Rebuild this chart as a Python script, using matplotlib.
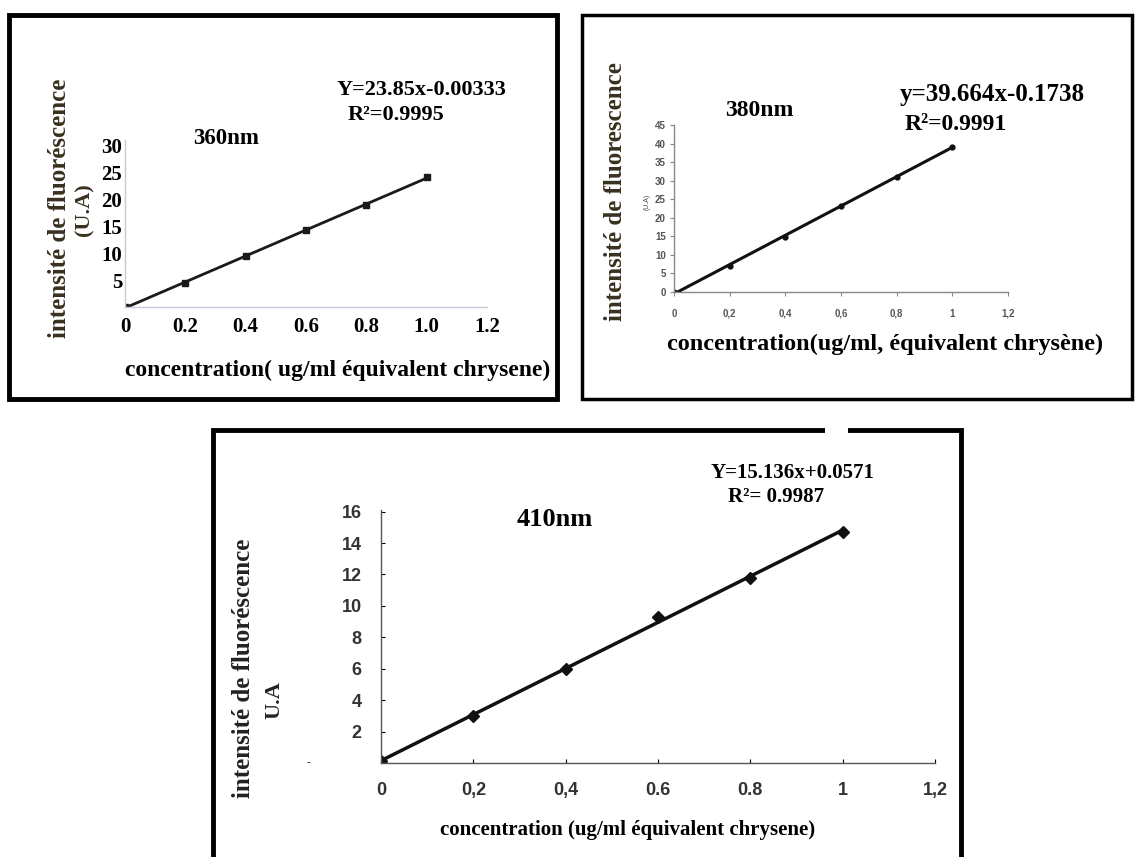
import numpy as np
import matplotlib.pyplot as plt
from matplotlib.patches import Rectangle

# ======================
# Data
# ======================
conc = [0.0, 0.2, 0.4, 0.6, 0.8, 1.0]

i360 = [0.0, 4.5, 9.5, 14.3, 19.0, 24.2]
i380 = [0.0, 7.0, 14.9, 23.3, 31.0, 39.2]
i410 = [0.1, 3.0, 6.0, 9.3, 11.8, 14.7]

eq_labels = ["Y=23.85x-0.00333", "y=39.664x-0.1738", "Y=15.136x+0.0571"]
r2_labels = ["R²=0.9995", "R²=0.9991", "R²= 0.9987"]
wl_labels = ["360nm", "380nm", "410nm"]

x_ticks = [0, 0.2, 0.4, 0.6, 0.8, 1.0, 1.2]
x_ticklabels_360 = ["0", "0.2", "0.4", "0.6", "0.8", "1.0", "1.2"]
x_ticklabels_380 = ["0", "0,2", "0,4", "0,6", "0,8", "1", "1,2"]
x_ticklabels_410 = ["0", "0,2", "0,4", "0.6", "0.8", "1", "1,2"]

y_ticks_360 = [5, 10, 15, 20, 25, 30]
y_ticks_380 = [0, 5, 10, 15, 20, 25, 30, 35, 40, 45]
y_ticks_410 = [2, 4, 6, 8, 10, 12, 14, 16]

W, H = 1137, 857
SERIF = "Liberation Serif"
SANS = "Liberation Sans"


def px_axes(fig, x0, y0, x1, y1):
    # pixel box (top-left origin) -> figure axes
    return fig.add_axes([x0 / W, 1 - y1 / H, (x1 - x0) / W, (y1 - y0) / H])


def frame(fig, x0, y0, x1, y1, lw, color="black", fill=False):
    fig.patches.append(Rectangle((x0 / W, 1 - y1 / H), (x1 - x0) / W, (y1 - y0) / H,
                                 transform=fig.transFigure, fill=fill,
                                 edgecolor=color, facecolor=color, linewidth=lw))


def ftext(fig, x, y, s, **kw):
    fig.text(x / W, 1 - y / H, s, **kw)


def style_axes(ax, spine_color):
    for side in ["top", "right"]:
        ax.spines[side].set_visible(False)
    for side in ["left", "bottom"]:
        ax.spines[side].set_color(spine_color)
        ax.spines[side].set_linewidth(1.0)
    ax.patch.set_alpha(0)


def trend(ax, x, y, **kw):
    # straight least-squares line through the points
    a, b = np.polyfit(x, y, 1)
    xs = np.array([x[0], x[-1]])
    ax.plot(xs, a * xs + b, **kw)


fig = plt.figure(figsize=(W / 100, H / 100), dpi=100)

# ======================
# Panel 1 : 360nm
# ======================
frame(fig, 9, 15, 557, 399, 3.5)
ax1 = px_axes(fig, 125, 140, 487, 307)
style_axes(ax1, "#c8c8d8")
ax1.set_xlim(0, 1.2)
ax1.set_ylim(0, 31.1)
ax1.plot(conc, i360, "s", color="#1a1a1a", markersize=4)
trend(ax1, conc, i360, color="#1a1a1a", linewidth=2)
ax1.set_xticks(x_ticks)
ax1.set_xticklabels(x_ticklabels_360, fontfamily=SERIF, fontweight="bold", fontsize=15)
ax1.set_yticks(y_ticks_360)
ax1.set_yticklabels([str(v) for v in y_ticks_360], fontfamily=SERIF,
                    fontweight="bold", fontsize=15)
ax1.tick_params(axis="y", length=0, pad=2)
ax1.tick_params(axis="x", length=0, pad=7)

ftext(fig, 60, 208, "intensité de fluoréscence", rotation=90, ha="center", va="center",
      fontfamily=SERIF, fontweight="bold", fontsize=18, color="#3a3020")
ftext(fig, 84, 210, "(U.A)", rotation=90, ha="center", va="center",
      fontfamily=SERIF, fontweight="bold", fontsize=16, color="#3a3020")
ftext(fig, 226, 139, wl_labels[0], ha="center", va="center",
      fontfamily=SERIF, fontweight="bold", fontsize=16.5)
ftext(fig, 337, 90, eq_labels[0], ha="left", va="center",
      fontfamily=SERIF, fontweight="bold", fontsize=16)
ftext(fig, 348, 115, r2_labels[0], ha="left", va="center",
      fontfamily=SERIF, fontweight="bold", fontsize=16)
ftext(fig, 338, 370, "concentration( ug/ml équivalent chrysene)", ha="center", va="center",
      fontfamily=SERIF, fontweight="bold", fontsize=17)

# ======================
# Panel 2 : 380nm
# ======================
frame(fig, 582, 15, 1132, 399, 2.5)
ax2 = px_axes(fig, 674, 125, 1008, 292)
style_axes(ax2, "#888888")
ax2.set_xlim(0, 1.2)
ax2.set_ylim(0, 45)
ax2.plot(conc, i380, "o", color="#111111", markersize=3.5)
trend(ax2, conc, i380, color="#111111", linewidth=2.2)
ax2.set_xticks(x_ticks)
ax2.set_xticklabels(x_ticklabels_380, fontfamily=SANS, fontsize=7, fontweight="bold",
                    color="#555555")
ax2.set_yticks(y_ticks_380)
ax2.set_yticklabels([str(v) for v in y_ticks_380], fontfamily=SANS, fontsize=7,
                    fontweight="bold", color="#555555")
ax2.tick_params(length=3, width=0.8, color="#888888", pad=3)
ax2.tick_params(axis="x", pad=9)

ftext(fig, 616, 192, "intensité de fluorescence", rotation=90, ha="center", va="center",
      fontfamily=SERIF, fontweight="bold", fontsize=18, color="#3a3020")
ftext(fig, 647, 202, "(U.A)", rotation=90, ha="center", va="center",
      fontfamily=SANS, fontsize=5, color="#444444")
ftext(fig, 759, 111, wl_labels[1], ha="center", va="center",
      fontfamily=SERIF, fontweight="bold", fontsize=17)
ftext(fig, 900, 94, eq_labels[1], ha="left", va="center",
      fontfamily=SERIF, fontweight="bold", fontsize=18)
ftext(fig, 905, 124, r2_labels[1], ha="left", va="center",
      fontfamily=SERIF, fontweight="bold", fontsize=17)
ftext(fig, 885, 344, "concentration(ug/ml, équivalent chrysène)", ha="center", va="center",
      fontfamily=SERIF, fontweight="bold", fontsize=17.5)

# ======================
# Panel 3 : 410nm
# ======================
frame(fig, 213, 430, 961, 875, 3.5)
frame(fig, 825, 428, 848, 433, 0, color="white", fill=True)  # gap in the top border
ax3 = px_axes(fig, 381, 510, 935, 763)
style_axes(ax3, "#555555")
ax3.set_xlim(0, 1.2)
ax3.set_ylim(0, 16.1)
ax3.plot(conc, i410, "D", color="#111111", markersize=6)
trend(ax3, conc, i410, color="#111111", linewidth=2.5)
ax3.set_xticks(x_ticks)
ax3.set_xticklabels(x_ticklabels_410, fontfamily=SANS, fontweight="bold", fontsize=13,
                    color="#333333")
ax3.set_yticks(y_ticks_410)
ax3.set_yticklabels([str(v) for v in y_ticks_410], fontfamily=SANS, fontweight="bold",
                    fontsize=13, color="#333333")
ax3.tick_params(axis="y", length=3, direction="in", pad=14)
ax3.tick_params(axis="x", length=3, direction="in", pad=14)

ftext(fig, 243, 668, "intensité de fluoréscence", rotation=90, ha="center", va="center",
      fontfamily=SERIF, fontweight="bold", fontsize=18, color="#222222")
ftext(fig, 274, 700, "U.A", rotation=90, ha="center", va="center",
      fontfamily=SERIF, fontweight="bold", fontsize=16, color="#222222")
ftext(fig, 308, 762, "-", ha="center", va="center", fontfamily=SANS, fontsize=8)
ftext(fig, 555, 520, wl_labels[2], ha="center", va="center",
      fontfamily=SERIF, fontweight="bold", fontsize=19)
ftext(fig, 711, 473, eq_labels[2], ha="left", va="center",
      fontfamily=SERIF, fontweight="bold", fontsize=15)
ftext(fig, 728, 497, r2_labels[2], ha="left", va="center",
      fontfamily=SERIF, fontweight="bold", fontsize=15)
ftext(fig, 628, 830, "concentration (ug/ml équivalent chrysene)", ha="center", va="center",
      fontfamily=SERIF, fontweight="bold", fontsize=15)

plt.savefig("out.png", dpi=100)
